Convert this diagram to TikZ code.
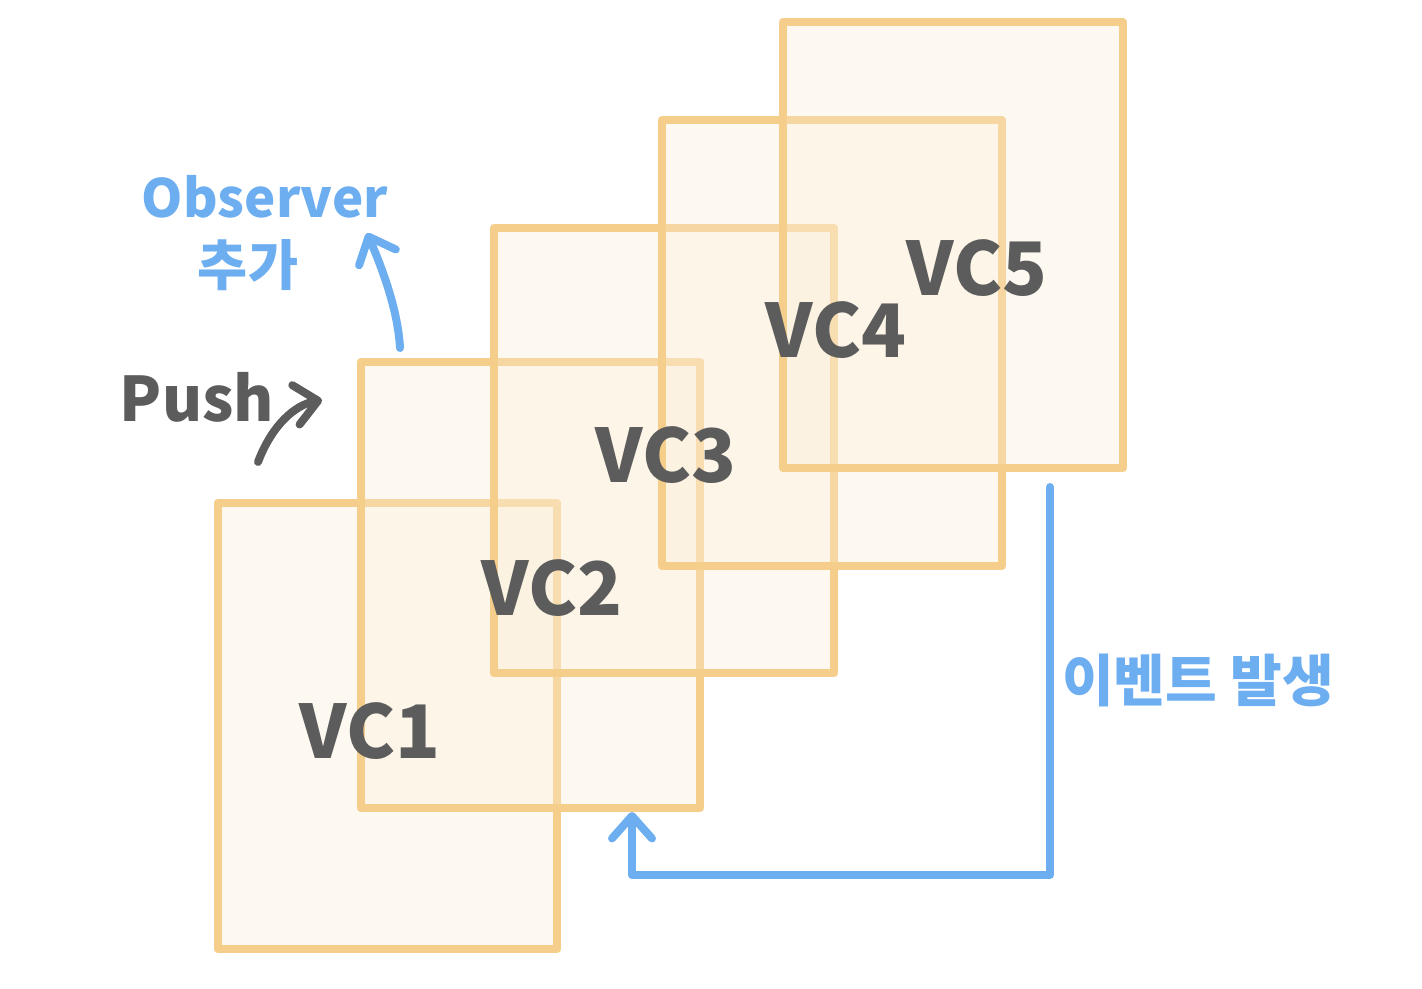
\documentclass[tikz,border=0pt]{standalone}
\usepackage{fontspec}
\setmainfont{Noto Sans CJK KR}
\usetikzlibrary{arrows.meta, positioning}

\definecolor{boxline}{RGB}{245,206,140}
\definecolor{boxfill}{RGB}{250,236,210}
\definecolor{inkblue}{RGB}{108,174,240}
\definecolor{inkgray}{RGB}{92,92,92}

\begin{document}
\begin{tikzpicture}[x=0.02cm, y=-0.02cm, line cap=round, line join=round,
    vcbox/.style={draw=boxline, line width=0.16cm, fill=boxfill, fill opacity=0.3,
      minimum width=6.8cm, minimum height=8.92cm, inner sep=0pt, outer sep=0pt},
    vclabel/.style={text=inkgray, font=\fontsize{42}{42}\selectfont\bfseries},
    bluenote/.style={text=inkblue, font=\bfseries, align=center, inner sep=0pt},
    flow/.style={line width=0.16cm, -{Straight Barb[length=0.45cm, width=0.8cm, round]}}]
      \useasboundingbox (0,0) rectangle (1422,988);

      % the stack of view controllers
      \node[vcbox] (vc1) at (387.5,726) {};
      \node[vcbox] (vc2) at (530.5,585) {};
      \node[vcbox] (vc3) at (664,450.5) {};
      \node[vcbox] (vc4) at (832,343) {};
      \node[vcbox] (vc5) at (953,245) {};

      \node[vclabel] (l1) at (370,731) {VC1};
      \node[vclabel] (l2) at (552,588) {VC2};
      \node[vclabel] (l3) at (666,455) {VC3};
      \node[vclabel] (l4) at (836,330) {VC4};
      \node[vclabel] (l5) at (977,268) {VC5};

      % notes
      \node[text=inkgray, font=\fontsize{35}{35}\selectfont\bfseries, inner sep=0pt] (push) at (197,397) {Push};
      \node[bluenote, font=\fontsize{30}{30}\selectfont\bfseries] (obs) at (265,197) {Observer};
      \node[bluenote, font=\fontsize{31}{31}\selectfont\bfseries] (add) at (248,265) {추가};
      \node[bluenote, font=\fontsize{32}{32}\selectfont\bfseries] (evt) at (1198,680) {이벤트 발생};

      \coordinate (push-from) at (258,462);
      \coordinate (push-to) at (322,400);
      \coordinate (obs-from) at (400,348);
      \coordinate (obs-to) at (367,233);
      \coordinate (evt-from) at (1050,487);
      \coordinate (evt-turn) at (632,875);

      \draw[flow, inkgray] (push-from) .. controls (272,425) and (295,405) .. (push-to);
      \draw[flow, inkblue] (obs-from) .. controls (398,310) and (382,268) .. (obs-to);
      \draw[flow, inkblue] (evt-from) |- (evt-turn) -- ([yshift=-0.08cm]vc2.south -| evt-turn);
    \end{tikzpicture}
\end{document}
